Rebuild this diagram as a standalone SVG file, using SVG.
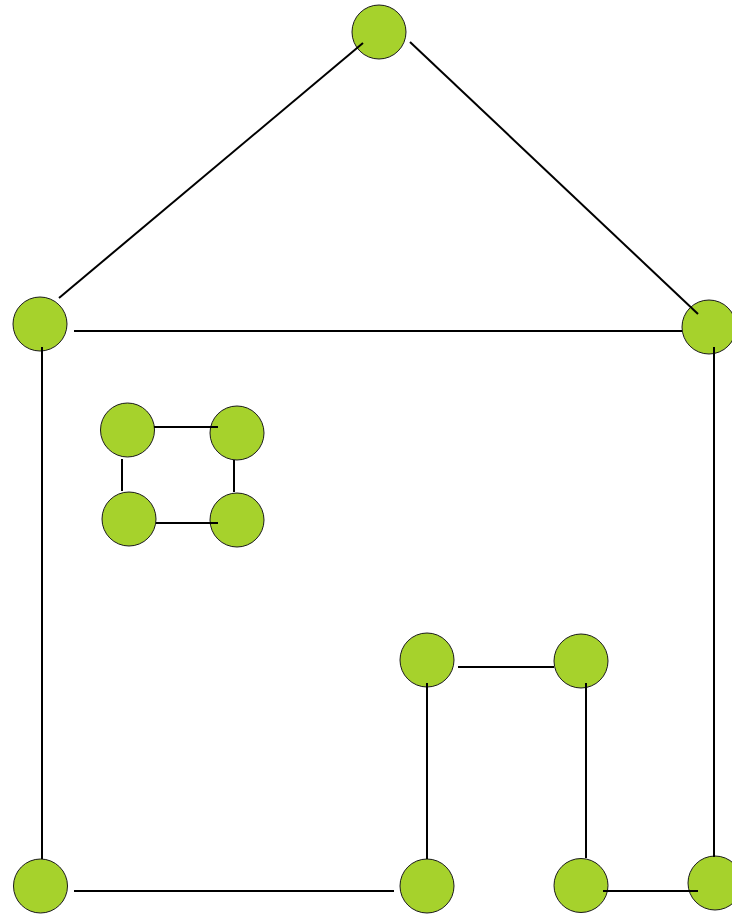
<svg xmlns="http://www.w3.org/2000/svg" width="732" height="914" viewBox="0 0 732 914">
<style>
.n{fill:#a6d22c;stroke:#1a1a1a;stroke-width:1}
.c line{stroke:#000;stroke-width:2;stroke-linecap:butt}
</style>
<rect width="732" height="914" fill="#fff"/>
<g id="n-top"><circle class="n" cx="379" cy="32" r="27"/></g>
<g id="n-left-mid"><circle class="n" cx="40" cy="324" r="27"/></g>
<g id="n-right-mid"><circle class="n" cx="709" cy="327" r="27"/></g>
<g id="n-win-tl"><circle class="n" cx="127.5" cy="430" r="27"/></g>
<g id="n-win-tr"><circle class="n" cx="237" cy="433" r="27"/></g>
<g id="n-win-bl"><circle class="n" cx="129" cy="519" r="27"/></g>
<g id="n-win-br"><circle class="n" cx="237" cy="520" r="27"/></g>
<g id="n-door-tl"><circle class="n" cx="427" cy="660" r="27"/></g>
<g id="n-door-tr"><circle class="n" cx="581" cy="661" r="27"/></g>
<g id="n-bot-left"><circle class="n" cx="40.5" cy="886" r="27"/></g>
<g id="n-bot-mid"><circle class="n" cx="427" cy="886" r="27"/></g>
<g id="n-bot-door"><circle class="n" cx="581" cy="885.5" r="27"/></g>
<g id="n-bot-right"><circle class="n" cx="715" cy="883" r="27"/></g>
<g id="connectors" class="c">
<line x1="363" y1="43" x2="59" y2="298"/>
<line x1="410" y1="42" x2="698" y2="314"/>
<line x1="74" y1="331" x2="682" y2="331"/>
<line x1="42" y1="347" x2="42" y2="859"/>
<line x1="714" y1="347" x2="714" y2="857"/>
<line x1="74" y1="891" x2="394" y2="891"/>
<line x1="427" y1="683" x2="427" y2="859"/>
<line x1="458" y1="667" x2="554" y2="667"/>
<line x1="586" y1="683" x2="586" y2="858"/>
<line x1="603" y1="891" x2="698" y2="891"/>
<line x1="154" y1="427" x2="218" y2="427"/>
<line x1="122" y1="459" x2="122" y2="491"/>
<line x1="234" y1="460" x2="234" y2="492"/>
<line x1="156" y1="523" x2="218" y2="523"/>
</g>
</svg>
